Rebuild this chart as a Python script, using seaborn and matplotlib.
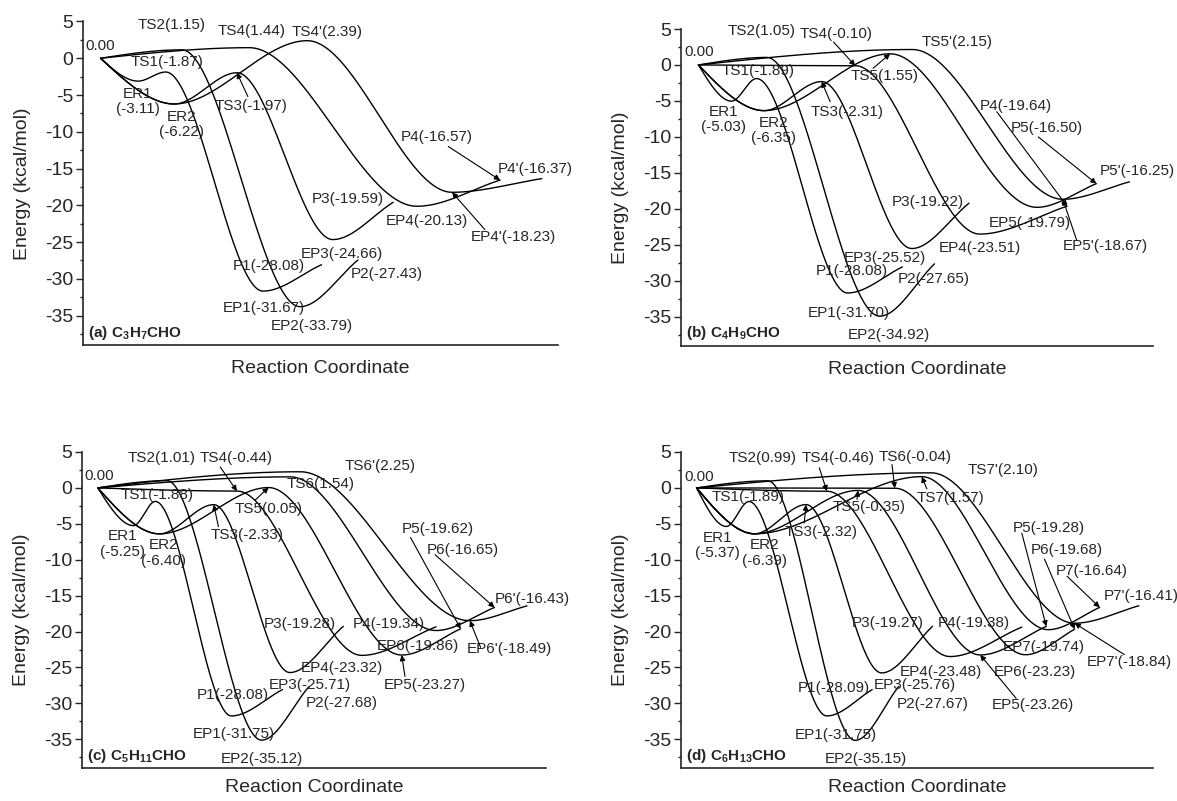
import numpy as np
import pandas as pd
import matplotlib
matplotlib.use("Agg")
import matplotlib.pyplot as plt
from matplotlib.ticker import MultipleLocator
import seaborn as sns

sns.set_style("ticks")
plt.rcParams["font.family"] = ["Liberation Sans", "DejaVu Sans"]
plt.rcParams["mathtext.fontset"] = "custom"
plt.rcParams["mathtext.rm"] = "Liberation Sans"
plt.rcParams["mathtext.bf"] = "Liberation Sans:bold"
plt.rcParams["axes.unicode_minus"] = False

# ---------------- (a) C3H7CHO ----------------
a_species = ["R", "ER1", "TS1", "EP1", "P1", "TS2", "EP2", "P2", "ER2", "TS3", "EP3", "P3",
             "TS4", "EP4", "P4", "TS4'", "EP4'", "P4'"]
a_energy = [0.00, -3.11, -1.87, -31.67, -28.08, 1.15, -33.79, -27.43, -6.22, -1.97, -24.66, -19.59,
            1.44, -20.13, -16.57, 2.39, -18.23, -16.37]
a_coord = [3.7, 11.6, 17.4, 37.9, 50.2, 20.8, 45.7, 57.9, 19.2, 32.4, 52.6, 65.3,
           35.0, 70.3, 87.8, 47.2, 77.7, 96.6]
a_paths = [["R", "ER1", "TS1", "EP1", "P1"],
           ["R", "TS2", "EP2", "P2"],
           ["R", "ER2", "TS3", "EP3", "P3"],
           ["R", "TS4", "EP4", "P4"],
           ["R", "ER2", "TS4'", "EP4'", "P4'"]]
# (species, label x, label y, arrow tail or None)
a_labels = [("R", 3.6, 1.7, None), ("TS2", 18.7, 4.5, None), ("TS4", 35.4, 3.7, None),
            ("TS4'", 51.5, 3.6, None), ("TS1", 17.8, -0.5, None), ("ER1", 11.5, -5.9, None),
            ("ER2", 20.8, -9.0, None), ("TS3", 35.4, -6.5, (34.7, -5.2)),
            ("P4", 74.4, -10.7, (76.9, -12.0)), ("P4'", 95.2, -15.0, None),
            ("P3", 55.7, -19.2, None), ("EP4", 72.3, -22.2, None),
            ("EP4'", 90.7, -24.3, (84.6, -23.3)), ("EP3", 54.5, -26.65, None),
            ("P1", 39.2, -28.3, None), ("P2", 64.0, -29.3, None),
            ("EP1", 38.0, -33.9, None), ("EP2", 48.1, -36.4, None)]
a_title = r"$\mathbf{(a)\ C_3H_7CHO}$"

# ---------------- (b) C4H9CHO ----------------
b_species = ["R", "ER1", "TS1", "EP1", "P1", "TS2", "EP2", "P2", "ER2", "TS3", "EP3", "P3",
             "TS4", "EP4", "P4", "TS5", "EP5", "P5", "TS5'", "EP5'", "P5'"]
b_energy = [0.00, -5.03, -1.89, -31.70, -28.08, 1.05, -34.92, -27.65, -6.35, -2.31, -25.52, -19.22,
            -0.10, -23.51, -19.64, 1.55, -19.79, -16.50, 2.15, -18.67, -16.25]
b_coord = [3.7, 10.7, 16.0, 35.3, 46.9, 18.2, 42.1, 53.7, 17.6, 29.8, 48.9, 61.0,
           36.9, 63.3, 81.8, 44.3, 75.4, 88.0, 49.0, 80.9, 95.0]
b_paths = [["R", "ER1", "TS1", "EP1", "P1"],
           ["R", "TS2", "EP2", "P2"],
           ["R", "ER2", "TS3", "EP3", "P3"],
           ["R", "TS4", "EP4", "P4"],
           ["R", "ER2", "TS5", "EP5", "P5"],
           ["R", "TS5'", "EP5'", "P5'"]]
b_labels = [("R", 3.9, 1.76, None), ("TS2", 17.0, 4.7, None), ("TS4", 32.9, 4.3, (32.3, 3.2)),
            ("TS5'", 58.6, 3.2, None), ("TS1", 16.4, -0.8, None), ("TS5", 43.2, -1.6, (40.7, -0.46)),
            ("ER1", 9.1, -7.6, None), ("ER2", 19.7, -9.1, None), ("TS3", 35.1, -6.6, (31.6, -5.1)),
            ("P4", 71.0, -5.7, (66.9, -6.5)), ("P5", 77.6, -8.8, (75.7, -10.0)),
            ("P5'", 96.6, -14.8, None), ("P3", 52.3, -19.0, None), ("EP5", 74.0, -22.0, None),
            ("EP5'", 89.8, -25.1, (83.8, -24.3)), ("EP4", 63.3, -25.5, None),
            ("EP3", 43.2, -26.8, None), ("P1", 36.2, -28.6, None), ("P2", 53.5, -29.7, None),
            ("EP1", 35.6, -34.5, None), ("EP2", 44.0, -37.6, None)]
b_title = r"$\mathbf{(b)\ C_4H_9CHO}$"

# ---------------- (c) C5H11CHO ----------------
c_species = ["R", "ER1", "TS1", "EP1", "P1", "TS2", "EP2", "P2", "ER2", "TS3", "EP3", "P3",
             "TS4", "EP4", "P4", "TS5", "EP5", "P5", "TS6", "EP6", "P6", "TS6'", "EP6'", "P6'"]
c_energy = [0.00, -5.25, -1.88, -31.75, -28.08, 1.01, -35.12, -27.68, -6.40, -2.33, -25.71, -19.28,
            -0.44, -23.32, -19.34, 0.05, -23.27, -19.62, 1.54, -19.86, -16.65, 2.25, -18.49, -16.43]
c_coord = [3.4, 11.1, 15.8, 32.2, 43.2, 18.3, 38.7, 48.9, 16.7, 28.4, 44.8, 56.3,
           33.4, 60.3, 76.3, 40.2, 68.9, 81.6, 44.9, 76.3, 88.9, 47.0, 83.6, 95.9]
c_paths = [["R", "ER1", "TS1", "EP1", "P1"],
           ["R", "TS2", "EP2", "P2"],
           ["R", "ER2", "TS3", "EP3", "P3"],
           ["R", "TS4", "EP4", "P4"],
           ["R", "ER2", "TS5", "EP5", "P5"],
           ["R", "TS6", "EP6", "P6"],
           ["R", "TS6'", "EP6'", "P6'"]]
c_labels = [("R", 3.7, 1.6, None), ("TS2", 17.2, 4.1, None), ("TS4", 33.3, 4.1, (29.8, 2.9)),
            ("TS6'", 64.3, 3.05, None), ("TS1", 16.2, -1.0, None), ("TS6", 51.4, 0.5, None),
            ("TS5", 40.3, -2.9, (37.3, -1.7)), ("ER1", 8.7, -7.8, None), ("ER2", 17.6, -9.1, None),
            ("TS3", 35.6, -6.6, (29.4, -5.4)), ("P5", 76.6, -5.7, (70.8, -6.9)),
            ("P6", 82.0, -8.7, (76.1, -9.3)), ("P6'", 97.0, -15.5, None),
            ("P3", 46.9, -19.0, None), ("P4", 66.1, -19.0, None), ("EP6", 72.4, -22.0, None),
            ("EP6'", 92.2, -22.5, (85.9, -22.2)), ("EP4", 56.1, -25.1, None),
            ("EP5", 73.9, -27.5, (69.6, -26.25)), ("EP3", 49.1, -27.4, None),
            ("P1", 32.6, -28.8, None), ("P2", 55.9, -29.9, None),
            ("EP1", 32.8, -34.3, None), ("EP2", 38.7, -37.7, None)]
c_title = r"$\mathbf{(c)\ C_5H_{11}CHO}$"

# ---------------- (d) C6H13CHO ----------------
d_species = ["R", "ER1", "TS1", "EP1", "P1", "TS2", "EP2", "P2", "ER2", "TS3", "EP3", "P3",
             "TS4", "EP4", "P4", "TS5", "EP5", "P5", "TS6", "EP6", "P6", "TS7", "EP7", "P7",
             "TS7'", "EP7'", "P7'"]
d_energy = [0.00, -5.37, -1.89, -31.75, -28.09, 0.99, -35.15, -27.67, -6.39, -2.32, -25.76, -19.27,
            -0.46, -23.48, -19.38, -0.35, -23.26, -19.28, -0.04, -23.23, -19.68, 1.57, -19.74, -16.64,
            2.10, -18.84, -16.41]
d_coord = [3.3, 9.6, 14.4, 30.9, 40.5, 18.4, 36.9, 46.1, 15.6, 26.5, 42.5, 53.3,
           30.9, 57.0, 72.2, 37.5, 63.4, 77.4, 45.3, 73.0, 83.4, 51.0, 77.8, 88.7,
           53.0, 83.4, 97.0]
d_paths = [["R", "ER1", "TS1", "EP1", "P1"],
           ["R", "TS2", "EP2", "P2"],
           ["R", "ER2", "TS3", "EP3", "P3"],
           ["R", "TS4", "EP4", "P4"],
           ["R", "ER2", "TS5", "EP5", "P5"],
           ["R", "TS6", "EP6", "P6"],
           ["R", "ER2", "TS7", "EP7", "P7"],
           ["R", "TS7'", "EP7'", "P7'"]]
d_labels = [("R", 3.9, 1.53, None), ("TS2", 17.2, 4.2, None), ("TS4", 33.2, 4.2, (29.3, 2.8)),
            ("TS6", 49.5, 4.3, (44.7, 3.25)), ("TS7'", 68.2, 2.45, None), ("TS1", 14.3, -1.2, None),
            ("TS7", 57.0, -1.4, (52.1, -0.14)), ("TS5", 39.9, -2.6, (37.3, -1.6)),
            ("ER1", 7.7, -8.0, None), ("ER2", 17.6, -9.1, None), ("TS3", 29.7, -6.2, (26.1, -4.9)),
            ("P5", 78.0, -5.6, (72.2, -6.3)), ("P6", 81.8, -8.7, (77.0, -9.9)),
            ("P7", 87.0, -11.5, (81.8, -12.3)), ("P7'", 97.5, -15.1, None),
            ("P3", 43.9, -18.8, None), ("P4", 62.0, -18.8, None), ("EP7", 76.8, -22.2, None),
            ("EP7'", 94.9, -24.2, (93.9, -23.2)), ("EP4", 55.0, -25.6, None),
            ("EP6", 75.0, -25.6, None), ("EP5", 74.5, -30.2, (71.0, -29.3)),
            ("P1", 32.3, -27.8, None), ("EP3", 49.5, -27.4, None), ("P2", 53.3, -30.1, None),
            ("EP1", 32.9, -34.4, None), ("EP2", 39.1, -37.8, None)]
d_title = r"$\mathbf{(d)\ C_6H_{13}CHO}$"

# axes frames in pixels: left, right, top, bottom, x-label pad
FIG_W, FIG_H = 1177, 801
frames = [(83, 558, 21.5, 345, 11), (681, 1153, 29, 345.5, 11),
          (82, 546, 452, 768, 8), (681, 1153, 452, 768, 8)]

panels = [
    (a_species, a_energy, a_coord, a_paths, a_labels, a_title),
    (b_species, b_energy, b_coord, b_paths, b_labels, b_title),
    (c_species, c_energy, c_coord, c_paths, c_labels, c_title),
    (d_species, d_energy, d_coord, d_paths, d_labels, d_title),
]


def hermite_path(xs, ys, n=80):
    """Smooth curve through stationary points: flat at every interior extremum."""
    xs = np.asarray(xs, float)
    ys = np.asarray(ys, float)
    m = np.zeros(len(xs))
    m[0] = 1.5 * (ys[1] - ys[0]) / (xs[1] - xs[0])
    m[-1] = (ys[-1] - ys[-2]) / (xs[-1] - xs[-2])
    px, py = [], []
    t = np.linspace(0.0, 1.0, n)
    h00 = 2 * t**3 - 3 * t**2 + 1
    h10 = t**3 - 2 * t**2 + t
    h01 = -2 * t**3 + 3 * t**2
    h11 = t**3 - t**2
    for i in range(len(xs) - 1):
        h = xs[i + 1] - xs[i]
        seg_y = h00 * ys[i] + h10 * h * m[i] + h01 * ys[i + 1] + h11 * h * m[i + 1]
        seg_x = xs[i] + t * h
        if i > 0:
            seg_x, seg_y = seg_x[1:], seg_y[1:]
        px.append(seg_x)
        py.append(seg_y)
    return np.concatenate(px), np.concatenate(py)


def label_text(name, energy):
    if name == "R":
        return f"{energy:.2f}"
    if name.startswith("ER"):
        return f"{name}\n({energy:.2f})"
    return f"{name}({energy:.2f})"


fig = plt.figure(figsize=(FIG_W / 100, FIG_H / 100), dpi=100)

for (species, energy, coord, paths, labels, title), (l, r, t, b, xpad) in zip(panels, frames):
    ax = fig.add_axes([l / FIG_W, 1 - b / FIG_H, (r - l) / FIG_W, (b - t) / FIG_H])
    E = dict(zip(species, energy))
    X = dict(zip(species, coord))

    rows = []
    for k, path in enumerate(paths):
        cx, cy = hermite_path([X[s] for s in path], [E[s] for s in path])
        rows.append(pd.DataFrame({"coord": cx, "energy": cy, "path": k}))
    df = pd.concat(rows, ignore_index=True)
    sns.lineplot(data=df, x="coord", y="energy", units="path", estimator=None, sort=False,
                 color="black", linewidth=1.0, ax=ax, legend=False)

    for name, lx, ly, tail in labels:
        ax.text(lx, ly, label_text(name, E[name]), ha="center", va="center", fontsize=11,
                linespacing=1.15, clip_on=False)
        if tail is not None:
            ax.annotate("", xy=(X[name], E[name]), xytext=tail,
                        arrowprops=dict(arrowstyle="-|>", color="black", lw=0.8,
                                        mutation_scale=8, shrinkA=0, shrinkB=0))

    ax.text(1.0, -37.3, title, ha="left", va="center", fontsize=11)

    ax.set_xlim(0, 100)
    ax.set_ylim(-39, 5)
    ax.yaxis.set_major_locator(MultipleLocator(5))
    ax.yaxis.set_minor_locator(MultipleLocator(2.5))
    ax.set_xticks([])
    ax.tick_params(axis="y", which="major", direction="out", length=5, width=1.0,
                   labelsize=14, pad=2)
    ax.tick_params(axis="y", which="minor", direction="out", length=2.5, width=1.0)
    for side in ("top", "right"):
        ax.spines[side].set_visible(False)
    for side in ("left", "bottom"):
        ax.spines[side].set_linewidth(1.2)
    ax.set_xlabel("Reaction Coordinate", fontsize=14, labelpad=xpad)
    ax.set_ylabel("Energy (kcal/mol)", fontsize=14, labelpad=10)

fig.savefig("out.png", dpi=100, facecolor="white")
